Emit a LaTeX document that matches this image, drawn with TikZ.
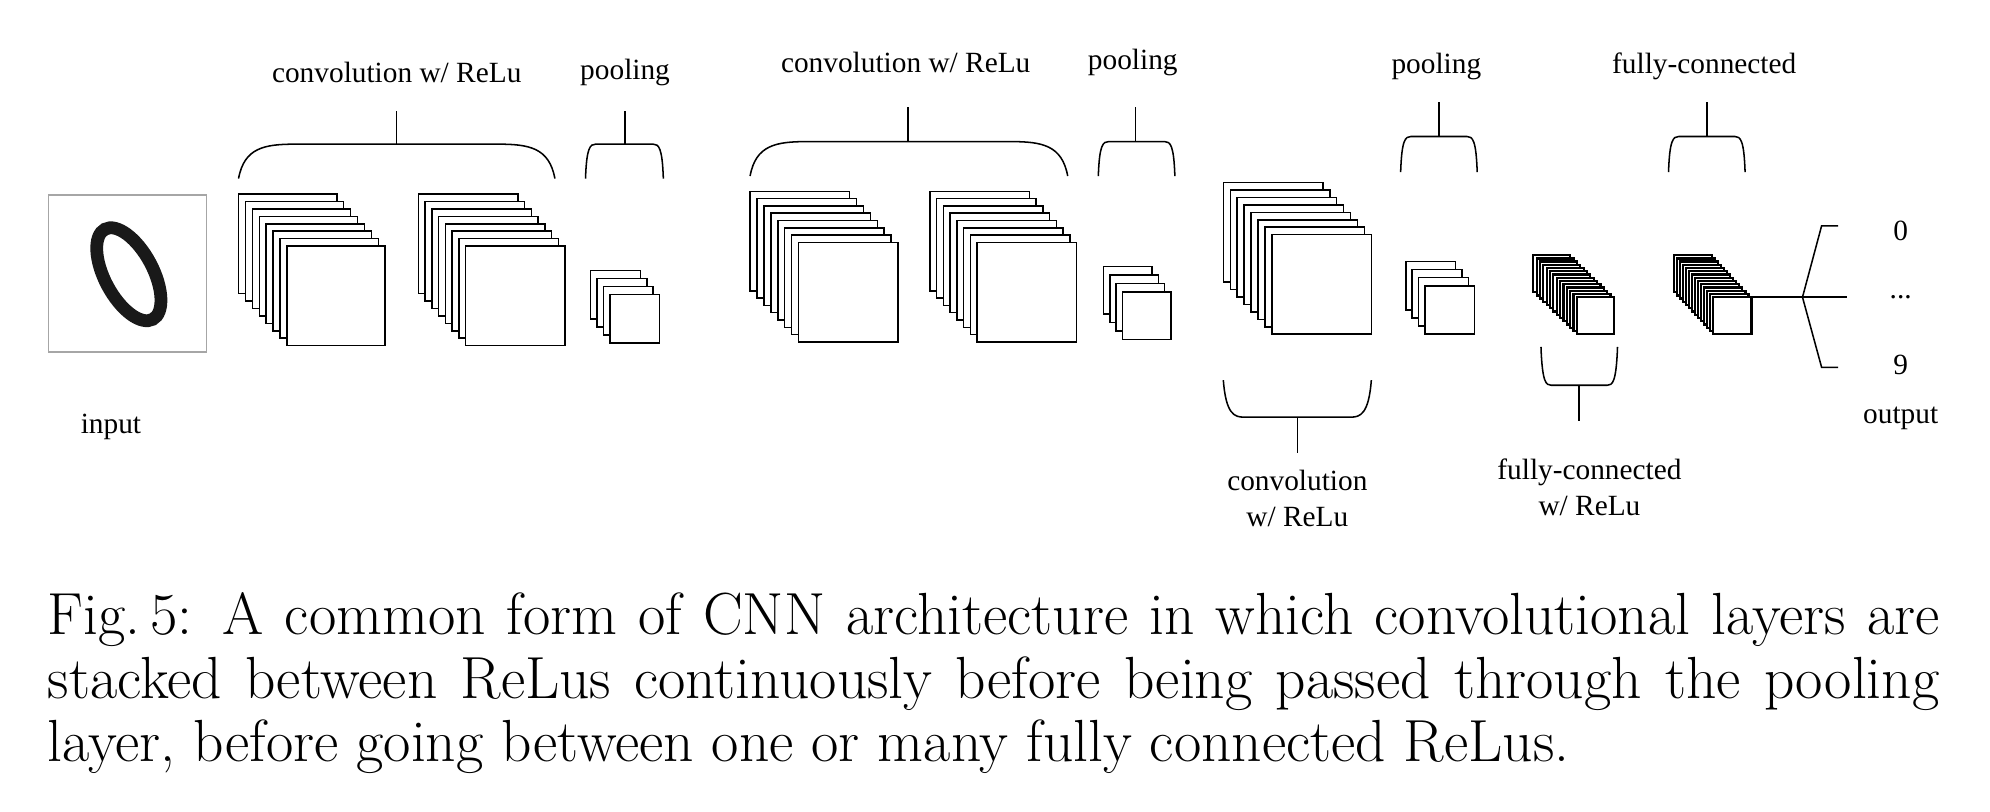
\documentclass[tikz,border=0pt]{standalone}
\usepackage{fontspec}
\newfontfamily\lblfont{Liberation Serif}
\begin{document}
\begin{tikzpicture}[x=0.5pt,y=-0.5pt,
  lbl/.style={font=\lblfont\fontsize{11.5}{13}\selectfont,inner sep=0pt,align=center},
  frame/.style={draw=black,fill=white,line width=0.6pt},
  fcframe/.style={draw=black,fill=white,line width=0.9pt},
  br/.style={draw=black,line width=0.6pt}]
\useasboundingbox (0,0) rectangle (1560,636);
\newcommand\mystack[8]{%
  \foreach \i in {0,...,\numexpr#1-1\relax}{%
    \pgfmathsetmacro\xx{#2+\i*(#4-#2)/(#1-1)}%
    \pgfmathsetmacro\yy{#3+\i*(#5-#3)/(#1-1)}%
    \draw[#8] (\xx,\yy) rectangle ++(#6,#7);}}
\newcommand\topbr[7]{%
  \draw[br] (#1,#4) .. controls (#1+0.1*#5,#3+0.1*#4-0.1*#3) and (#1+0.45*#5,#3) .. (#1+#5,#3) -- (#2-#5,#3) .. controls (#2-0.45*#5,#3) and (#2-0.1*#5,#3+0.1*#4-0.1*#3) .. (#2,#4);
  \draw[br] (#6,#3) -- (#6,#7);}
% input
\draw[gray!70,line width=0.6pt] (38,153) rectangle (162,276);
\draw[black!90,line width=5pt] (101,215) ellipse [x radius=19, y radius=40, rotate=28];
\node[lbl] (input) at (87,335) {input};
% stage 1
\mystack{8}{187}{152}{225}{193}{77}{78}{frame}
\mystack{8}{328}{152}{365}{193}{78}{78}{frame}
\mystack{4}{463}{212}{478}{231}{39}{38}{frame}
\topbr{187}{435}{113}{140}{45}{311}{87}
\node[lbl] (c1) at (311,57) {convolution w/ ReLu};
\topbr{459}{520}{113}{140}{8}{490}{87}
\node[lbl] (p1) at (490,57) {pooling};
% stage 2
\mystack{8}{588}{150}{626}{190}{78}{78}{frame}
\mystack{8}{729}{150}{766}{190}{78}{78}{frame}
\mystack{4}{865}{209}{880}{229}{38}{37}{frame}
\topbr{588}{837}{111}{138}{45}{712}{84}
\node[lbl] (c2) at (710,49) {convolution w/ ReLu};
\topbr{861}{921}{111}{138}{8}{890}{84}
\node[lbl] (p2) at (888,49) {pooling};
% stage 3
\mystack{8}{959}{143}{997}{184}{78}{78}{frame}
\draw[br] (959,298) .. controls (961,325) and (968,327) .. (975,327) -- (1059,327) .. controls (1066,327) and (1073,325) .. (1075,298);
\draw[br] (1017,327) -- (1017,355);
\node[lbl] (c3) at (1017,391) {convolution\\[1pt]w/ ReLu};
\mystack{4}{1102}{205}{1117}{224}{39}{38}{frame}
\topbr{1098}{1158}{107}{135}{8}{1128}{80}
\node[lbl] (p3) at (1126,52) {pooling};
\mystack{14}{1202}{200}{1236}{233}{29}{29}{fcframe}
\draw[br] (1208,272) .. controls (1209,300) and (1212,302) .. (1216,302) -- (1260,302) .. controls (1264,302) and (1267,300) .. (1268,272);
\draw[br] (1238,302) -- (1238,330);
\node[lbl] (f1) at (1246,382) {fully-connected\\[1pt]w/ ReLu};
\mystack{14}{1312}{200}{1343}{233}{30}{29}{fcframe}
\topbr{1308}{1368}{107}{135}{8}{1338}{80}
\node[lbl] (f2) at (1336,52) {fully-connected};
% output
\coordinate (fo) at (1373,233);
\coordinate (hub) at (1413,233);
\draw[br] (fo) -- (hub) -- (1448,233);
\draw[br] (hub) -- (1428,177) -- (1441,177);
\draw[br] (hub) -- (1428,288) -- (1441,288);
\node[lbl] (o0) at (1490,181) {0};
\node[lbl] (od) at (1490,233) {...};
\node[lbl] (o9) at (1490,286) {9};
\node[lbl] (out) at (1490,328) {output};
% caption
\node[anchor=north west,inner sep=0pt,text width=741.5pt,align=justify,
  font=\fontsize{23.3}{25}\selectfont] (cap) at (37,464)
{Fig.\,5: A common form of CNN architecture in which convolutional layers are\linebreak
stacked between ReLus continuously before being passed through the pooling\linebreak
layer, before going between one or many fully connected ReLus.};
\end{tikzpicture}
\end{document}
